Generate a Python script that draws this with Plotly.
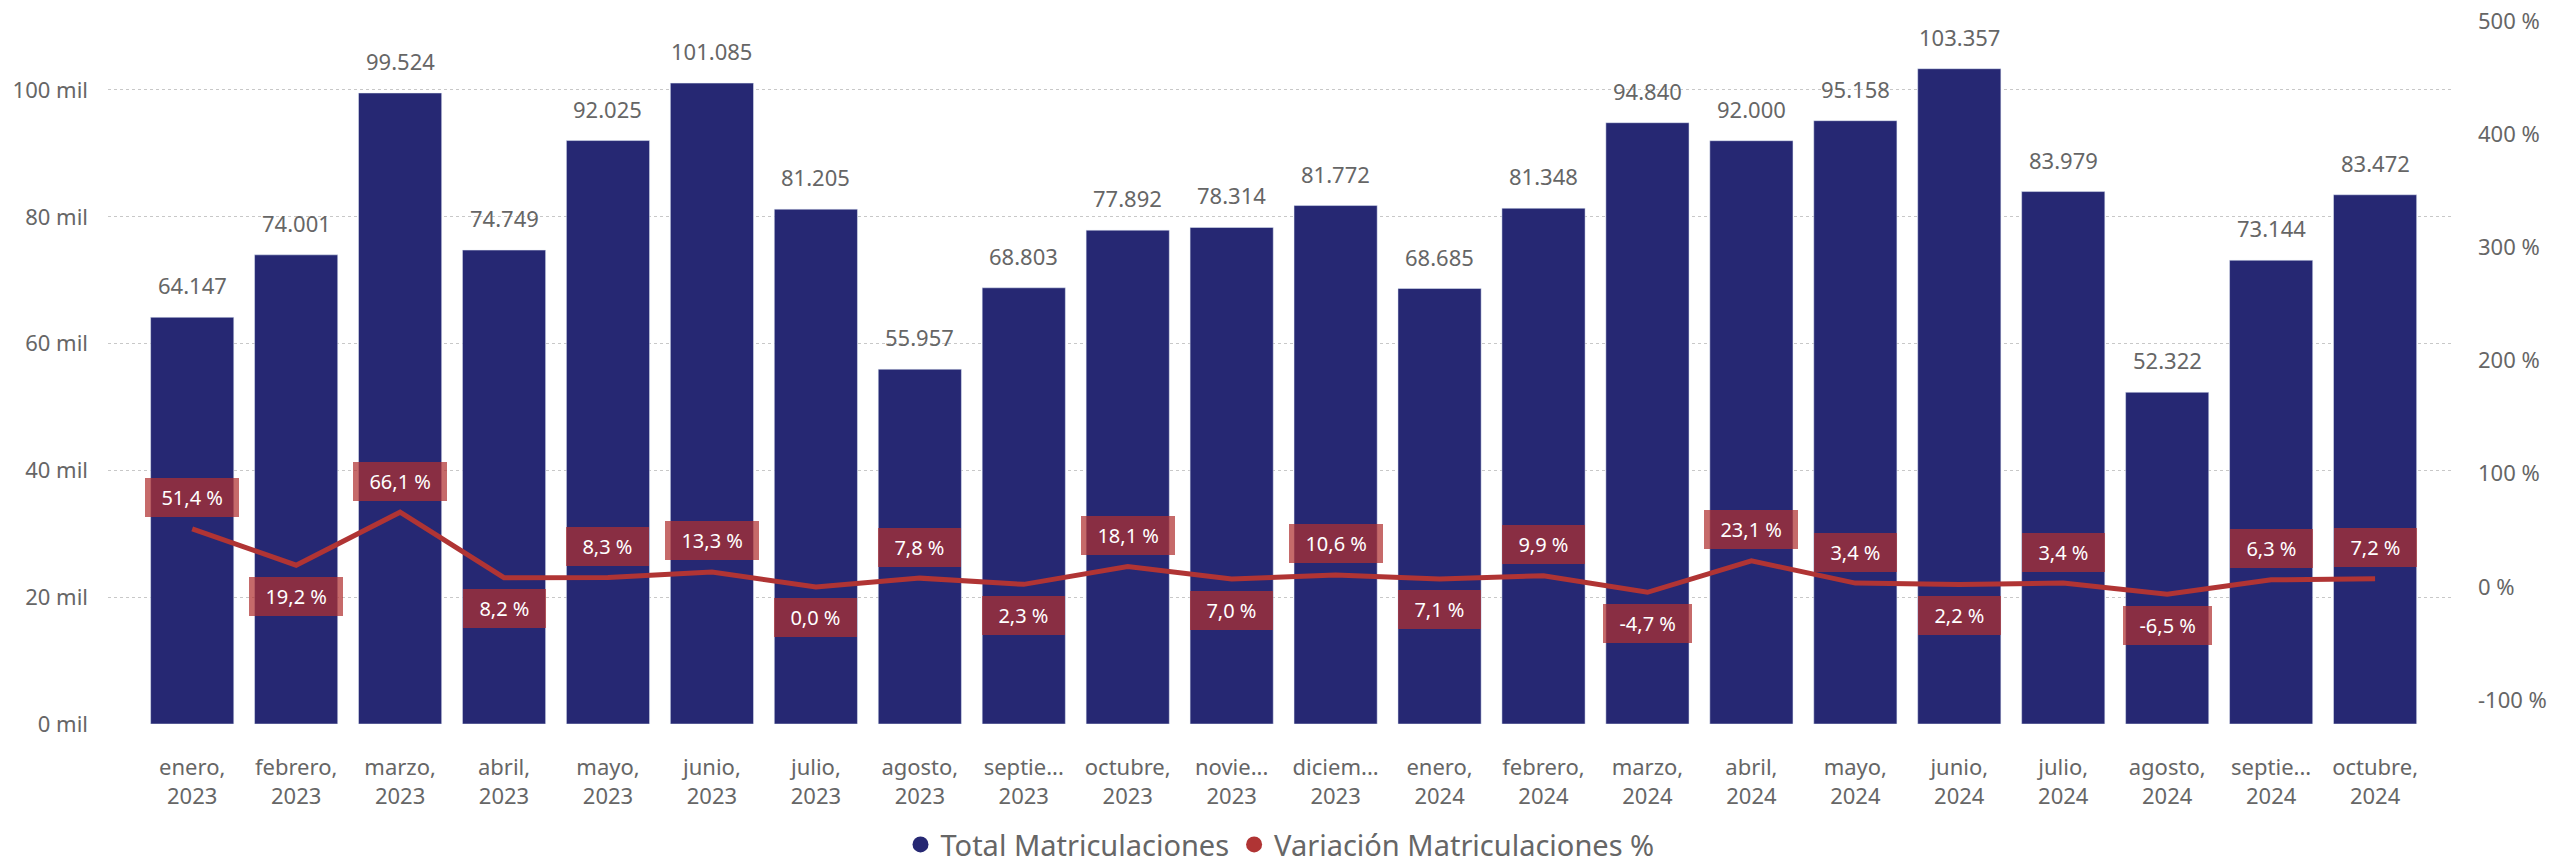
import plotly.graph_objects as go

# ---------------- data ----------------
months = ["enero,<br>2023", "febrero,<br>2023", "marzo,<br>2023", "abril,<br>2023", "mayo,<br>2023",
          "junio,<br>2023", "julio,<br>2023", "agosto,<br>2023", "septie...<br>2023", "octubre,<br>2023",
          "novie...<br>2023", "diciem...<br>2023", "enero,<br>2024", "febrero,<br>2024", "marzo,<br>2024",
          "abril,<br>2024", "mayo,<br>2024", "junio,<br>2024", "julio,<br>2024", "agosto,<br>2024",
          "septie...<br>2024", "octubre,<br>2024"]
total_matriculaciones = [64147, 74001, 99524, 74749, 92025, 101085, 81205, 55957, 68803, 77892, 78314,
                         81772, 68685, 81348, 94840, 92000, 95158, 103357, 83979, 52322, 73144, 83472]
variacion_pct = [51.4, 19.2, 66.1, 8.2, 8.3, 13.3, 0.0, 7.8, 2.3, 18.1, 7.0,
                 10.6, 7.1, 9.9, -4.7, 23.1, 3.4, 2.2, 3.4, -6.5, 6.3, 7.2]
left_tickvals = [0, 20000, 40000, 60000, 80000, 100000]
left_ticktext = ["0 mil", "20 mil", "40 mil", "60 mil", "80 mil", "100 mil"]
right_tickvals = [-100, 0, 100, 200, 300, 400, 500]
right_ticktext = ["-100 %", "0 %", "100 %", "200 %", "300 %", "400 %", "500 %"]

# label placement (style): 1 = above the line point, -1 = below
label_side = [1, -1, 1, -1, 1, 1, -1, 1, -1, 1, -1, 1, -1, 1, -1, 1, 1, -1, 1, -1, 1, 1]

BAR_COLOR = "#262873"
LINE_COLOR = "#B03434"
TEXT_GRAY = "#666666"
FONT = "Segoe UI, Noto Sans, Open Sans, sans-serif"


def fmt_int(v):
    return f"{v:,}".replace(",", ".")


def fmt_pct(p):
    return f"{p:.1f}".replace(".", ",") + " %"


fig = go.Figure()

fig.add_trace(go.Bar(x=months, y=total_matriculaciones, marker_color=BAR_COLOR,
                     name="Total Matriculaciones", showlegend=False, yaxis="y"))
fig.add_trace(go.Scatter(x=months, y=variacion_pct, mode="lines",
                         line=dict(color=LINE_COLOR, width=5),
                         name="Variación Matriculaciones %", showlegend=False, yaxis="y2"))

# legend-only dummy traces with circular markers
fig.add_trace(go.Scatter(x=[None], y=[None], mode="markers", name="Total Matriculaciones",
                         marker=dict(color=BAR_COLOR, size=18, symbol="circle")))
fig.add_trace(go.Scatter(x=[None], y=[None], mode="markers", name="Variación Matriculaciones %",
                         marker=dict(color=LINE_COLOR, size=18, symbol="circle")))

annotations = []
for m, v in zip(months, total_matriculaciones):
    annotations.append(dict(x=m, y=v, xref="x", yref="y", text=fmt_int(v), showarrow=False,
                            yanchor="middle", yshift=32,
                            font=dict(family=FONT, size=22, color=TEXT_GRAY)))
for m, p, s in zip(months, variacion_pct, label_side):
    annotations.append(dict(x=m, y=p, xref="x", yref="y2",
                            text="&nbsp;&nbsp;" + fmt_pct(p) + "&nbsp;&nbsp;", showarrow=False,
                            yanchor="middle", yshift=31 * s,
                            bgcolor="rgba(176,48,48,0.72)", borderpad=6, borderwidth=0,
                            font=dict(family=FONT, size=20, color="white")))

fig.update_layout(
    width=2573, height=868,
    margin=dict(l=108, r=121, t=20, b=144, autoexpand=False),
    paper_bgcolor="white", plot_bgcolor="white",
    bargap=0.2,
    font=dict(family=FONT, color=TEXT_GRAY),
    xaxis=dict(type="category", range=[-0.81, 21.74], showgrid=False, zeroline=False,
               showline=False, ticks="", tickfont=dict(size=22, color=TEXT_GRAY),
               ticklabelstandoff=28),
    yaxis=dict(range=[0, 111040], tickvals=left_tickvals, ticktext=left_ticktext,
               showgrid=True, gridcolor="#C8C8C8", griddash="dot", gridwidth=1,
               zeroline=False, showline=False, ticks="",
               tickfont=dict(size=22, color=TEXT_GRAY), ticklabelstandoff=19),
    yaxis2=dict(range=[-121.1, 501], tickvals=right_tickvals, ticktext=right_ticktext,
                overlaying="y", side="right", showgrid=False, zeroline=False, showline=False,
                ticks="", tickfont=dict(size=22, color=TEXT_GRAY), ticklabelstandoff=25),
    legend=dict(orientation="h", x=0.5, xanchor="center", y=0.027, yref="container",
                yanchor="middle", font=dict(size=29, color=TEXT_GRAY), itemwidth=30,
                traceorder="normal"),
    annotations=annotations,
)

fig.write_html("out.html", config={"displayModeBar": False},
               post_script="document.body.style.margin='0';")
